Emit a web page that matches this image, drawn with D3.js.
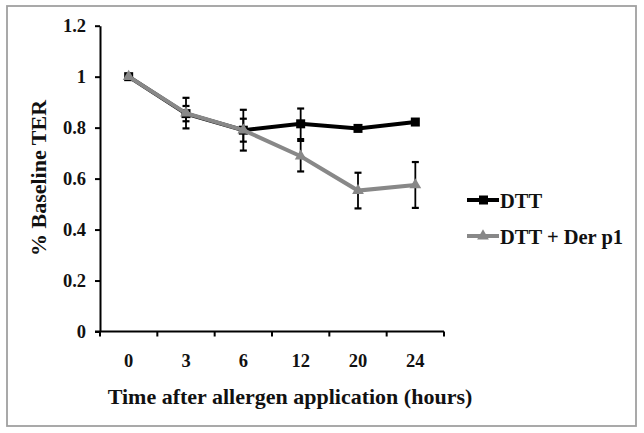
<!DOCTYPE html>
<html>
<head>
<meta charset="utf-8">
<script src="https://cdn.jsdelivr.net/npm/d3@7"></script>
<style>
  body { margin: 0; background: #fff; }
  text { font-family: "Liberation Serif", "DejaVu Serif", serif; font-weight: bold; fill: #111; }
</style>
</head>
<body>
<svg id="chart"></svg>
<script>
// data
let hours = ["0", "3", "6", "12", "20", "24"];
let dttValues = [1.0, 0.855, 0.79, 0.815, 0.797, 0.822];
let dttErrors = [0, 0.03, 0.045, 0.06, 0.01, 0.01];
let derValues = [1.0, 0.857, 0.79, 0.688, 0.553, 0.575];
let derErrors = [0, 0.06, 0.08, 0.06, 0.07, 0.09];
let yTicks = [0, 0.2, 0.4, 0.6, 0.8, 1, 1.2];

let config = { svg: {}, plot: {}, legend: {} };
config.svg.width = 644;
config.svg.height = 433;
config.plot.x = 100;
config.plot.y = 25.7;
config.plot.width = 344;
config.plot.height = 305.8;
config.legend.x = 467;
config.legend.y = 200;

let svg = d3.select("svg#chart")
  .attr("width", config.svg.width)
  .attr("height", config.svg.height);

// frame around the figure
svg.append("rect")
  .attr("x", 7).attr("y", 6)
  .attr("width", 629).attr("height", 420)
  .attr("fill", "none")
  .attr("stroke", "#a0a0a0")
  .attr("stroke-width", 1.8);

let plot = svg.append("g")
  .attr("transform", translate(config.plot.x, config.plot.y));

let scale = {};
scale.x = d3.scaleBand().domain(hours).range([0, config.plot.width]);
scale.y = d3.scaleLinear().domain([0, 1.2]).range([config.plot.height, 0]);

let cx = d => scale.x(d) + scale.x.bandwidth() / 2;

// axes
let axisY = d3.axisLeft(scale.y)
  .tickValues(yTicks)
  .tickFormat(d => d === 0 || d === 1 ? String(d) : d3.format(".1f")(d))
  .tickSize(5)
  .tickSizeOuter(0)
  .tickPadding(9);

let gy = plot.append("g").call(axisY);
gy.select(".domain").attr("stroke", "#000").attr("stroke-width", 2);
gy.selectAll(".tick line").attr("stroke", "#000").attr("stroke-width", 2);
gy.selectAll(".tick text")
  .style("font-family", "Liberation Serif")
  .style("font-weight", "bold")
  .style("font-size", "18.5px")
  .attr("fill", "#111");

// x axis: ticks at category boundaries, labels at centres
let gx = plot.append("g").attr("transform", translate(0, config.plot.height));
gx.append("line")
  .attr("x1", -5).attr("x2", config.plot.width)
  .attr("stroke", "#000").attr("stroke-width", 2);
let bounds = hours.map(h => scale.x(h)).concat([config.plot.width]);
gx.selectAll("line.tick")
  .data(bounds)
  .enter().append("line")
  .attr("class", "tick")
  .attr("x1", d => d).attr("x2", d => d)
  .attr("y1", 0).attr("y2", 5)
  .attr("stroke", "#000").attr("stroke-width", 2);
gx.selectAll("text")
  .data(hours)
  .enter().append("text")
  .attr("x", d => cx(d))
  .attr("y", 35)
  .attr("text-anchor", "middle")
  .attr("font-size", "18.5px")
  .text(d => d);

// error bars
function drawErrors(values, errors) {
  let g = plot.append("g");
  hours.forEach(function(h, i) {
    if (errors[i] <= 0) return;
    let x = cx(h);
    let y1 = scale.y(values[i] + errors[i]);
    let y2 = scale.y(values[i] - errors[i]);
    g.append("line").attr("x1", x).attr("x2", x).attr("y1", y1).attr("y2", y2)
      .attr("stroke", "#000").attr("stroke-width", 1.8);
    [y1, y2].forEach(function(y) {
      g.append("line").attr("x1", x - 3.5).attr("x2", x + 3.5).attr("y1", y).attr("y2", y)
        .attr("stroke", "#000").attr("stroke-width", 2.2);
    });
  });
}
drawErrors(dttValues, dttErrors);
drawErrors(derValues, derErrors);

let line = d3.line()
  .x((d, i) => cx(hours[i]))
  .y(d => scale.y(d));

let triangle = d3.symbol().type(d3.symbolTriangle).size(60);

// DTT series
plot.append("path")
  .datum(dttValues)
  .attr("d", line)
  .attr("fill", "none")
  .attr("stroke", "#000")
  .attr("stroke-width", 4);
plot.selectAll("rect.dtt")
  .data(dttValues)
  .enter().append("rect")
  .attr("class", "dtt")
  .attr("x", (d, i) => cx(hours[i]) - 4.5)
  .attr("y", d => scale.y(d) - 4.5)
  .attr("width", 9).attr("height", 9)
  .attr("fill", "#000");

// DTT + Der p1 series
plot.append("path")
  .datum(derValues)
  .attr("d", line)
  .attr("fill", "none")
  .attr("stroke", "#888")
  .attr("stroke-width", 4);
plot.selectAll("path.der")
  .data(derValues)
  .enter().append("path")
  .attr("class", "der")
  .attr("d", triangle)
  .attr("transform", (d, i) => translate(cx(hours[i]), scale.y(d)))
  .attr("fill", "#888");

// legend
let legend = svg.append("g").attr("transform", translate(config.legend.x, config.legend.y));
let items = [
  { name: "DTT", color: "#000", marker: "square" },
  { name: "DTT + Der p1", color: "#888", marker: "triangle" }
];
items.forEach(function(item, i) {
  let g = legend.append("g").attr("transform", translate(0, i * 36));
  g.append("line").attr("x1", 0).attr("x2", 32).attr("y1", 0).attr("y2", 0)
    .attr("stroke", item.color).attr("stroke-width", 4);
  if (item.marker === "square") {
    g.append("rect").attr("x", 12).attr("y", -4.5).attr("width", 9).attr("height", 9).attr("fill", item.color);
  } else {
    g.append("path").attr("d", triangle).attr("transform", translate(16, 0)).attr("fill", item.color);
  }
  g.append("text")
    .attr("x", 33).attr("y", 7.5)
    .attr("font-size", "20.5px")
    .text(item.name);
});

// axis titles
svg.append("text")
  .attr("x", 290).attr("y", 404)
  .attr("text-anchor", "middle")
  .attr("font-size", "22px")
  .text("Time after allergen application (hours)");

svg.append("text")
  .attr("transform", "translate(46,178) rotate(-90)")
  .attr("text-anchor", "middle")
  .attr("font-size", "22px")
  .text("% Baseline TER");

function translate(x, y) {
  return 'translate(' + x + ',' + y + ')';
}
</script>
</body>
</html>
